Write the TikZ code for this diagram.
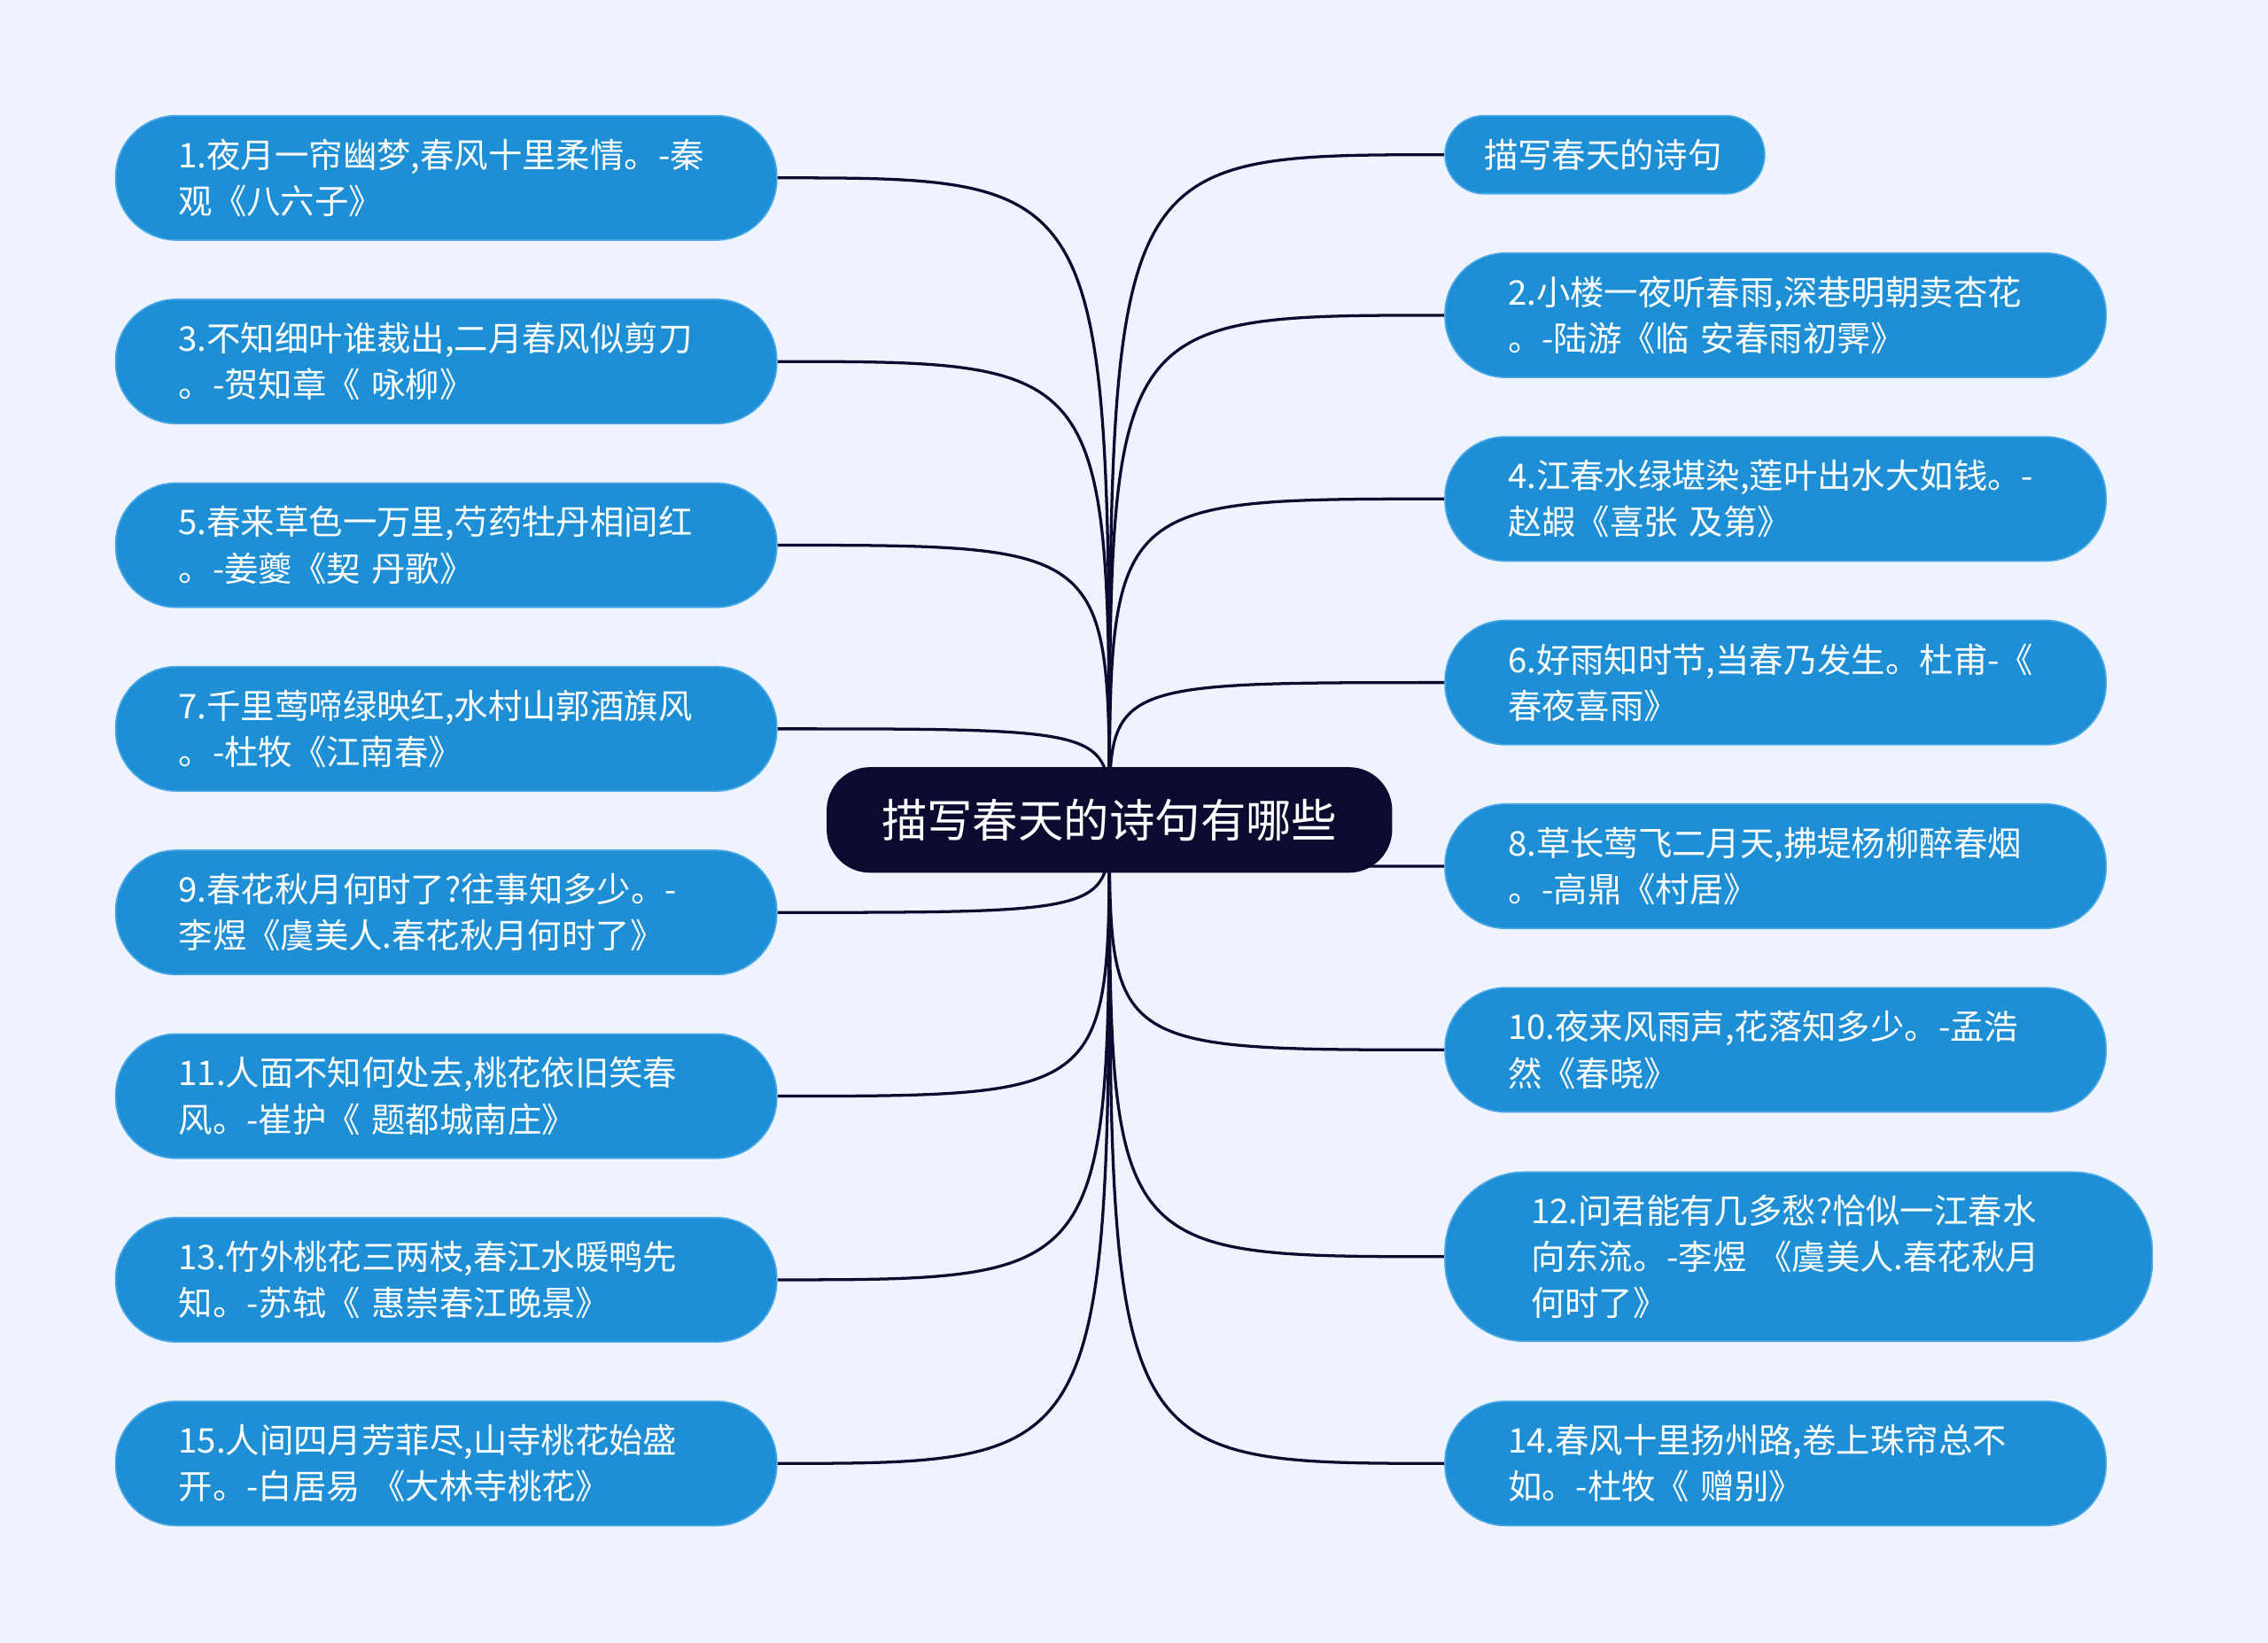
\documentclass[tikz,border=0pt]{standalone}
\usepackage{fontspec}
\setmainfont{Noto Sans CJK SC}
\usetikzlibrary{backgrounds}
\definecolor{bgc}{HTML}{EEF3FD}
\definecolor{leafc}{HTML}{1E8FD5}
\definecolor{leafb}{HTML}{4AA8E6}
\definecolor{rootc}{HTML}{0B0B30}
\tikzset{
  leaf/.style={draw=leafb, line width=1pt, fill=leafc, text=white, rounded corners=42pt,
    minimum width=457pt, minimum height=86pt, text width=380pt, align=left,
    font=\fontsize{23.5}{32}\selectfont, inner xsep=38pt},
  link/.style={draw=rootc, line width=2pt}
}
\begin{document}
\begin{tikzpicture}[x=1pt,y=-1pt]
    \useasboundingbox (0,0) rectangle (1568,1136);

    \node[fill=rootc, text=white, rounded corners=30pt, minimum width=391pt, minimum height=73pt,
      font=\fontsize{31.5}{36}\selectfont] (root) at (767,567) {描写春天的诗句有哪些};

    % left side
    \node[leaf] (l1) at (308.5,123)  {\hspace{5pt}1.夜月一帘幽梦,春风十里柔情。-秦\\\hspace{5pt}观《八六子》};
    \node[leaf] (l3) at (308.5,250)  {\hspace{5pt}3.不知细叶谁裁出,二月春风似剪刀\\\hspace{5pt}。-贺知章《 咏柳》};
    \node[leaf] (l5) at (308.5,377)  {\hspace{5pt}5.春来草色一万里,芍药牡丹相间红\\\hspace{5pt}。-姜夔《契 丹歌》};
    \node[leaf] (l7) at (308.5,504)  {\hspace{5pt}7.千里莺啼绿映红,水村山郭酒旗风\\\hspace{5pt}。-杜牧《江南春》};
    \node[leaf] (l9) at (308.5,631)  {\hspace{5pt}9.春花秋月何时了?往事知多少。-\\\hspace{5pt}李煜《虞美人.春花秋月何时了》};
    \node[leaf] (l11) at (308.5,758) {\hspace{5pt}11.人面不知何处去,桃花依旧笑春\\\hspace{5pt}风。-崔护《 题都城南庄》};
    \node[leaf] (l13) at (308.5,885) {\hspace{5pt}13.竹外桃花三两枝,春江水暖鸭先\\\hspace{5pt}知。-苏轼《 惠崇春江晚景》};
    \node[leaf] (l15) at (308.5,1012) {\hspace{5pt}15.人间四月芳菲尽,山寺桃花始盛\\\hspace{5pt}开。-白居易 《大林寺桃花》};

    % right side
    \node[leaf, minimum width=221pt, minimum height=54pt, text width=167pt, inner xsep=27pt,
      rounded corners=27pt] (r0) at (1109.5,107) {描写春天的诗句};
    \node[leaf] (r2) at (1227.5,218)  {\hspace{5pt}2.小楼一夜听春雨,深巷明朝卖杏花\\\hspace{5pt}。-陆游《临 安春雨初霁》};
    \node[leaf] (r4) at (1227.5,345)  {\hspace{5pt}4.江春水绿堪染,莲叶出水大如钱。-\\\hspace{5pt}赵嘏《喜张 及第》};
    \node[leaf] (r6) at (1227.5,472)  {\hspace{5pt}6.好雨知时节,当春乃发生。杜甫-《\\\hspace{5pt}春夜喜雨》};
    \node[leaf] (r8) at (1227.5,599)  {\hspace{5pt}8.草长莺飞二月天,拂堤杨柳醉春烟\\\hspace{5pt}。-高鼎《村居》};
    \node[leaf] (r10) at (1227.5,726) {\hspace{5pt}10.夜来风雨声,花落知多少。-孟浩\\\hspace{5pt}然《春晓》};
    \node[leaf, minimum width=489pt, minimum height=117pt, inner xsep=54pt,
      rounded corners=55pt] (r12) at (1243.5,869) {\hspace{5pt}12.问君能有几多愁?恰似一江春水\\\hspace{5pt}向东流。-李煜 《虞美人.春花秋月\\\hspace{5pt}何时了》};
    \node[leaf] (r14) at (1227.5,1012) {\hspace{5pt}14.春风十里扬州路,卷上珠帘总不\\\hspace{5pt}如。-杜牧《 赠别》};

    \begin{scope}[on background layer]
    \fill[bgc] (0,0) rectangle (1568,1136);
    \foreach \n/\y in {l1/123,l3/250,l5/377,l7/504,l9/631,l11/758,l13/885,l15/1012}
      \draw[link] (root.center) .. controls (767,\y) .. (\n.east);
    \foreach \n/\y in {r0/107,r2/218,r4/345,r6/472,r8/599,r10/726,r12/869,r14/1012}
      \draw[link] (root.center) .. controls (767,\y) .. (\n.west);
    \end{scope}
\end{tikzpicture}
\end{document}
